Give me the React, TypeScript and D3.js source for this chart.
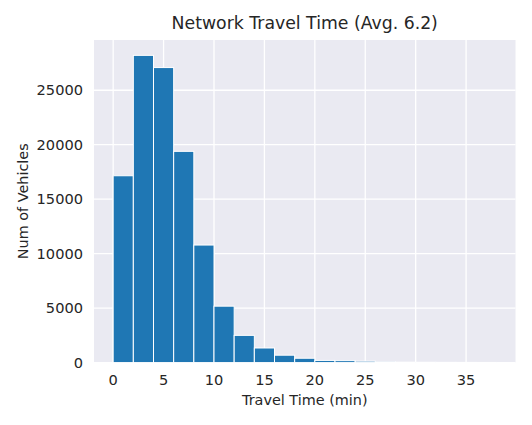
import React from "react";
import * as d3 from "d3";

const binEdgesStart = [0, 2, 4, 6, 8, 10, 12, 14, 16, 18, 20, 22, 24, 26, 28, 30, 32, 34, 36];
const binWidth = 2;
const counts = [17150, 28200, 27080, 19390, 10790, 5180, 2500, 1340, 680, 400, 200, 180, 130, 70, 40, 30, 25, 20, 15];
const xTicks = [0, 5, 10, 15, 20, 25, 30, 35];
const yTicks = [0, 5000, 10000, 15000, 20000, 25000];
const title = "Network Travel Time (Avg. 6.2)";
const xLabel = "Travel Time (min)";
const yLabel = "Num of Vehicles";

const W = 532;
const H = 425;
const left = 94;
const right = 515.5;
const top = 40;
const bottom = 362.6;
const FONT = "DejaVu Sans";

export default function App() {
  const dataMax = binEdgesStart[binEdgesStart.length - 1] + binWidth;
  const pad = dataMax * 0.05;
  const x = d3.scaleLinear().domain([-pad, dataMax + pad]).range([left, right]);
  const yMax = (d3.max(counts) as number) * 1.05;
  const y = d3.scaleLinear().domain([0, yMax]).range([bottom, top]);

  return (
    <svg
      width={W}
      height={H}
      style={{ position: "absolute", left: 0, top: 0, background: "#fff" }}
      fontFamily={FONT}
    >
      <rect x={left} y={top} width={right - left} height={bottom - top} fill="#EAEAF2" />
      {xTicks.map((t) => (
        <line key={"gx" + t} x1={x(t)} x2={x(t)} y1={top} y2={bottom} stroke="#fff" strokeWidth={1.3} />
      ))}
      {yTicks.map((t) => (
        <line key={"gy" + t} x1={left} x2={right} y1={y(t)} y2={y(t)} stroke="#fff" strokeWidth={1.3} />
      ))}
      {binEdgesStart.map((s, i) => (
        <rect
          key={"b" + i}
          x={x(s)}
          y={y(counts[i])}
          width={x(s + binWidth) - x(s)}
          height={bottom - y(counts[i])}
          fill="#1f77b4"
          stroke="#fff"
          strokeWidth={1}
        />
      ))}
      {xTicks.map((t) => (
        <text key={"tx" + t} x={x(t)} y={385} textAnchor="middle" fontSize={14.6} fill="#262626">
          {t}
        </text>
      ))}
      {yTicks.map((t) => (
        <text
          key={"ty" + t}
          x={83}
          y={y(t)}
          dy="0.36em"
          textAnchor="end"
          fontSize={14.6}
          fill="#262626"
        >
          {t}
        </text>
      ))}
      <text x={(left + right) / 2} y={405} textAnchor="middle" fontSize={14.4} fill="#262626">
        {xLabel}
      </text>
      <text
        transform={`translate(28,${(top + bottom) / 2}) rotate(-90)`}
        textAnchor="middle"
        fontSize={14.4}
        fill="#262626"
      >
        {yLabel}
      </text>
      <text x={(left + right) / 2} y={29} textAnchor="middle" fontSize={17.3} fill="#262626">
        {title}
      </text>
    </svg>
  );
}
